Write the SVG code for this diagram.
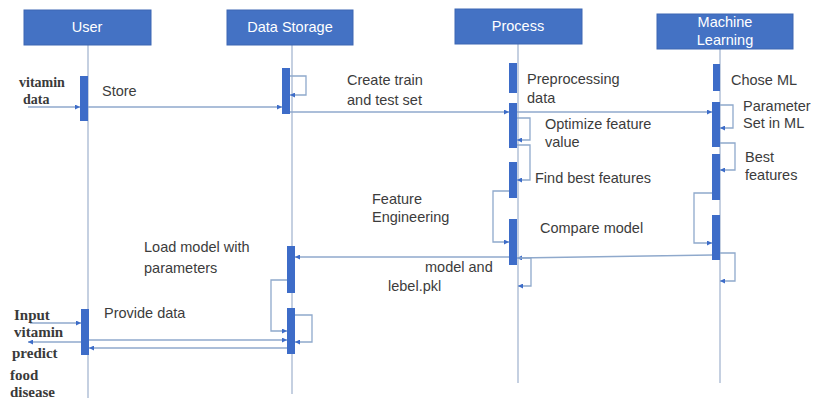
<svg xmlns="http://www.w3.org/2000/svg" width="815" height="400" viewBox="0 0 815 400">
<style>
.hdr{fill:#4472C4;stroke:#3d67b3;stroke-width:1}
.ht{font-family:"Liberation Sans",Arial,sans-serif;font-size:14.5px;fill:#ffffff;text-anchor:middle}
.life{stroke:#b7c5da;stroke-width:1.6;fill:none}
.bar{fill:#3d6cc8}
.msg{stroke:#8fa9cc;stroke-width:1.3;fill:none}
.t{font-family:"Liberation Sans",Arial,sans-serif;font-size:14.5px;fill:#3c3c3c}
.s{font-family:"Liberation Serif","Times New Roman",serif;font-size:15px;font-weight:bold;fill:#3a3a3a}
</style>
<defs>
<marker id="ah" viewBox="0 0 6 6" refX="6" refY="3" markerWidth="6" markerHeight="5" markerUnits="userSpaceOnUse" orient="auto">
<path d="M0,0 L6,3 L0,6 Z" fill="#3d6cc8"/>
</marker>
</defs>
<rect width="815" height="400" fill="#ffffff"/>

<g id="lifelines">
<line class="life" x1="88" y1="45" x2="88" y2="398"/>
<line class="life" x1="292" y1="45" x2="292" y2="394"/>
<line class="life" x1="518" y1="44" x2="518" y2="383"/>
<line class="life" x1="720" y1="49" x2="720" y2="383"/>
</g>

<g id="user">
<rect class="hdr" x="24" y="10" width="127" height="35"/>
<text class="ht" x="87" y="32">User</text>
<rect class="bar" x="80" y="76" width="8" height="45"/>
<rect class="bar" x="81" y="309" width="8" height="46"/>
</g>

<g id="data-storage">
<rect class="hdr" x="227" y="10" width="126" height="35"/>
<text class="ht" x="290" y="32">Data Storage</text>
<rect class="bar" x="282" y="68" width="8" height="46"/>
<rect class="bar" x="287" y="246" width="8" height="47"/>
<rect class="bar" x="287" y="308" width="8" height="46"/>
</g>

<g id="process">
<rect class="hdr" x="455" y="9" width="127" height="35"/>
<text class="ht" x="518" y="31">Process</text>
<rect class="bar" x="509" y="63" width="8" height="30"/>
<rect class="bar" x="509" y="103" width="8" height="45"/>
<rect class="bar" x="509" y="162" width="8" height="36"/>
<rect class="bar" x="509" y="219" width="8" height="46"/>
</g>

<g id="machine-learning">
<rect class="hdr" x="657" y="14" width="136" height="35"/>
<text class="ht" x="725" y="27">Machine</text>
<text class="ht" x="725" y="45">Learning</text>
<rect class="bar" x="713" y="64" width="7" height="27"/>
<rect class="bar" x="712" y="102" width="8" height="45"/>
<rect class="bar" x="712" y="154" width="8" height="46"/>
<rect class="bar" x="712" y="215" width="8" height="45"/>
</g>

<g id="connectors">
<line class="msg" x1="28" y1="107" x2="80" y2="107" marker-end="url(#ah)"/>
<line class="msg" x1="88" y1="107" x2="282" y2="107" marker-end="url(#ah)"/>
<polyline class="msg" points="290,76 306,76 306,95 290,95" marker-end="url(#ah)"/>
<line class="msg" x1="290" y1="112" x2="509" y2="112" marker-end="url(#ah)"/>
<line class="msg" x1="517" y1="112" x2="712" y2="112" marker-end="url(#ah)"/>
<polyline class="msg" points="517,118 530,118 530,140 517,140" marker-end="url(#ah)"/>
<polyline class="msg" points="517,145 530,145 530,180 517,180" marker-end="url(#ah)"/>
<polyline class="msg" points="509,191 493,191 493,242 509,242" marker-end="url(#ah)"/>
<polyline class="msg" points="720,105 733,105 733,128 720,128" marker-end="url(#ah)"/>
<polyline class="msg" points="720,143 735,143 735,170 720,170" marker-end="url(#ah)"/>
<polyline class="msg" points="712,193 694,193 694,243 712,243" marker-end="url(#ah)"/>
<line class="msg" x1="712" y1="255" x2="517" y2="258" marker-end="url(#ah)"/>
<line class="msg" x1="509" y1="257" x2="295" y2="257" marker-end="url(#ah)"/>
<polyline class="msg" points="517,258 531,258 531,286 518,286" marker-end="url(#ah)"/>
<polyline class="msg" points="720,253 735,253 735,281 720,281" marker-end="url(#ah)"/>
<polyline class="msg" points="287,280 271,280 271,331 287,331" marker-end="url(#ah)"/>
<polyline class="msg" points="295,315 312,315 312,342 295,342" marker-end="url(#ah)"/>
<line class="msg" x1="30" y1="323" x2="81" y2="323" marker-end="url(#ah)"/>
<line class="msg" x1="81" y1="342" x2="28" y2="342" marker-end="url(#ah)"/>
<line class="msg" x1="89" y1="340" x2="287" y2="340" marker-end="url(#ah)"/>
<line class="msg" x1="287" y1="348" x2="89" y2="348" marker-end="url(#ah)"/>
</g>

<g id="labels">
<text class="s" x="19" y="87" style="font-size:14px">vitamin</text>
<text class="s" x="23" y="104" style="font-size:14px">data</text>
<text class="t" x="102" y="96">Store</text>
<text class="t" x="347" y="85">Create train</text>
<text class="t" x="347" y="105">and test set</text>
<text class="t" x="527" y="84">Preprocessing</text>
<text class="t" x="527" y="103">data</text>
<text class="t" x="731" y="85">Chose ML</text>
<text class="t" x="743" y="111">Parameter</text>
<text class="t" x="743" y="128">Set in ML</text>
<text class="t" x="545" y="129">Optimize feature</text>
<text class="t" x="545" y="147">value</text>
<text class="t" x="745" y="162">Best</text>
<text class="t" x="745" y="180">features</text>
<text class="t" x="535" y="183">Find best features</text>
<text class="t" x="372" y="204">Feature</text>
<text class="t" x="372" y="222">Engineering</text>
<text class="t" x="540" y="233">Compare model</text>
<text class="t" x="144" y="252">Load model with</text>
<text class="t" x="144" y="273">parameters</text>
<text class="t" x="425" y="272">model and</text>
<text class="t" x="388" y="291">lebel.pkl</text>
<text class="t" x="104" y="318">Provide data</text>
<text class="s" x="14" y="320">Input</text>
<text class="s" x="14" y="337">vitamin</text>
<text class="s" x="12" y="358">predict</text>
<text class="s" x="10" y="380">food</text>
<text class="s" x="10" y="397">disease</text>
</g>
</svg>
